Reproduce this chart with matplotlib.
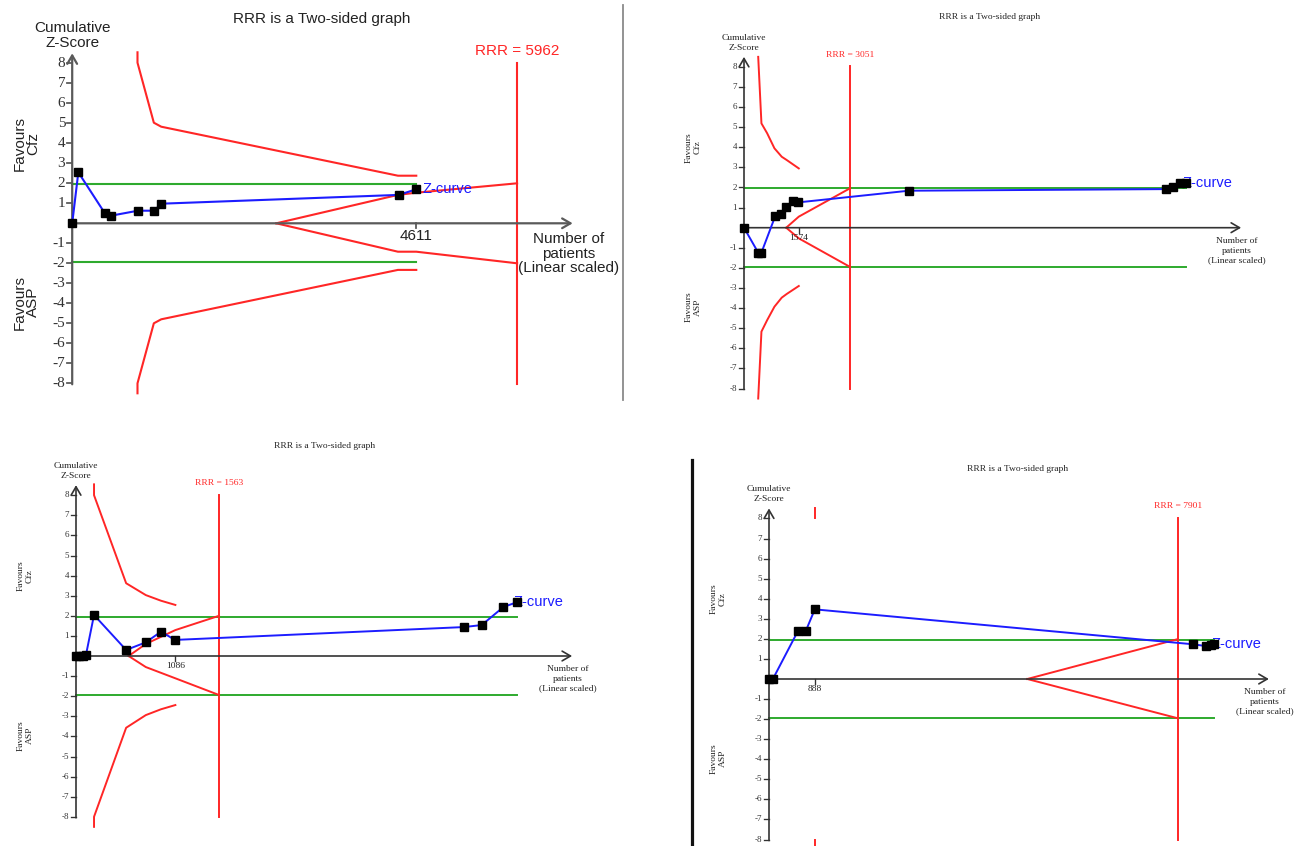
import matplotlib
matplotlib.use('Agg')
import matplotlib.pyplot as plt
from matplotlib.lines import Line2D

W, H = 1300, 846
SANS = ['Liberation Sans', 'DejaVu Sans']
SERIF = ['Liberation Serif', 'DejaVu Serif']
RED = '#ff2626'
GREEN = '#2eaa2e'
BLUE = '#1c1cff'

# ---- panel A (top left) ----
a_n = [0, 82, 438, 520, 881, 1100, 1193, 4376, 4611]
a_z = [0, 2.55, 0.5, 0.38, 0.63, 0.63, 0.98, 1.42, 1.7]
a_bound_n = [875, 875, 1094, 1193, 4365, 4611]
a_bound_up = [8.55, 8.03, 5.03, 4.83, 2.38, 2.38]
a_bound_lo = [-8.5, -8.0, -5.0, -4.8, -2.33, -2.33]
a_fut_n = [2735, 4365, 4611, 5962]
a_fut_up = [0, 1.42, 1.53, 2.0]
a_fut_lo = [0, -1.42, -1.42, -2.0]
a_rrr = 5962
a_tick = 4611
a_xend = 6707

# ---- panel B (top right) ----
b_n = [0, 409, 502, 900, 1075, 1215, 1413, 1565, 4743, 12150, 12348, 12558, 12734]
b_z = [0, -1.24, -1.24, 0.58, 0.66, 1.01, 1.31, 1.26, 1.84, 1.92, 2.0, 2.2, 2.22]
b_bound_n = [409, 502, 666, 876, 1086, 1227, 1577]
b_bound_up = [8.5, 5.19, 4.7, 3.95, 3.53, 3.37, 2.95]
b_bound_lo = [-8.5, -5.17, -4.6, -3.93, -3.48, -3.3, -2.9]
b_fut_n = [1215, 1577, 3051]
b_fut_up = [0, 0.55, 1.96]
b_fut_lo = [0, -0.53, -1.95]
b_rrr = 3051
b_tick = 1574
b_xend = 14310

# ---- panel C (bottom left) ----
c_n = [0, 36, 72, 108, 197, 548, 763, 929, 1082, 4241, 4434, 4672, 4816]
c_z = [0, 0, 0, 0.03, 2.04, 0.3, 0.68, 1.21, 0.8, 1.44, 1.54, 2.44, 2.67]
c_bound_n = [197, 197, 548, 763, 929, 1086]
c_bound_up = [8.54, 8.0, 3.62, 3.03, 2.75, 2.54]
c_bound_lo = [-8.5, -8.0, -3.57, -2.94, -2.65, -2.44]
c_fut_n = [575, 763, 1086, 1563]
c_fut_up = [0, 0.6, 1.29, 2.0]
c_fut_lo = [0, -0.55, -1.11, -1.94]
c_rrr = 1563
c_tick = 1086
c_xend = 5422

# ---- panel D (bottom right) ----
d_n = [0, 75, 563, 713, 885, 8192, 8440, 8530, 8590]
d_z = [0, 0, 2.41, 2.41, 3.47, 1.73, 1.64, 1.68, 1.73]
d_bound_n = [888, 888]
d_bound_up = [8.5, 8.0]
d_bound_lo = [-8.0, -8.3]
d_fut_n = [4989, 7901]
d_fut_up = [0, 1.99]
d_fut_lo = [0, -1.96]
d_rrr = 7901
d_tick = 888
d_xend = 9655

z_ticks = [-8, -7, -6, -5, -4, -3, -2, -1, 1, 2, 3, 4, 5, 6, 7, 8]
z_green = 1.96

fig = plt.figure(figsize=(13, 8.46), dpi=100)


def draw_panel(x0, y0, ppn, ppz, n, z, bn, bup, blo, fn, fup, flo, rrr, tick, xend,
               big, title_xy, msize, lab_dx):
    # one transparent axes over the whole figure, scaled so the panel lands on its spot
    ax = fig.add_axes([0, 0, 1, 1])
    ax.set_xlim(-x0 / ppn, (W - x0) / ppn)
    ax.set_ylim((y0 - H) / ppz, y0 / ppz)
    ax.axis('off')
    ax.patch.set_alpha(0)

    px = 1.0 / ppn   # one pixel in x data units
    pz = 1.0 / ppz   # one pixel in z data units
    if big:
        fam, tfam = SANS, SERIF
        fs, tfs = 11, 11
        acol, alw = '#5a5a5a', 1.6
        lw = 1.5
        head_y, fav_dx, lsp = 9.4, -46, 1.05
    else:
        fam, tfam = SERIF, SERIF
        fs, tfs = 6.8, 6.5
        acol, alw = '#333333', 1.2
        lw = 1.4
        head_y, fav_dx, lsp = 9.2, -51, 1.3

    # axes with arrow heads
    arr = dict(arrowstyle='->,head_length=0.6,head_width=0.35', color=acol, lw=alw,
               shrinkA=0, shrinkB=0)
    ax.annotate('', xy=(0, 8.5), xytext=(0, -8.05), arrowprops=arr)
    ax.annotate('', xy=(xend, 0), xytext=(0, 0), arrowprops=arr)
    for t in z_ticks:
        ax.plot([-5 * px, 0], [t, t], color=acol, lw=alw * 0.8)
        ax.text(-7 * px, t, str(t), ha='right', va='center', fontsize=tfs,
                family=tfam, color='#333333')
    ax.plot([tick, tick], [0, -5 * pz], color=acol, lw=alw * 0.8)
    ax.text(tick, -6 * pz, str(tick), ha='center', va='top', fontsize=fs,
            family=fam, color='#222222')

    # boundaries
    ax.plot([0, n[-1]], [z_green, z_green], color=GREEN, lw=lw)
    ax.plot([0, n[-1]], [-z_green, -z_green], color=GREEN, lw=lw)
    ax.plot(bn, bup, color=RED, lw=lw)
    ax.plot(bn, blo, color=RED, lw=lw)
    ax.plot(fn, fup, color=RED, lw=lw)
    ax.plot(fn, flo, color=RED, lw=lw)
    ax.plot([rrr, rrr], [8.02, -8.02], color=RED, lw=lw)
    ax.text(rrr, 8.6, f'RRR = {rrr}', ha='center', va='center', fontsize=fs,
            family=fam, color=RED)

    # z-curve
    ax.text(n[-1] + lab_dx * px, z[-1], 'Z-curve', ha='left', va='center',
            fontsize=10.5, family=SANS, color=BLUE, zorder=4)
    ax.plot(n, z, color=BLUE, lw=lw, zorder=5)
    ax.plot(n, z, ls='none', marker='s', ms=msize, color='black', zorder=6)

    # labels
    ax.text(0, head_y, 'Cumulative\nZ-Score', ha='center', va='center', fontsize=fs,
            family=fam, linespacing=lsp, color='#222222')
    ax.text(fav_dx * px, 4.0, 'Favours\nCfz', ha='center', va='center', rotation=90,
            fontsize=fs, family=fam, linespacing=lsp - 0.1, color='#222222')
    ax.text(fav_dx * px, -3.95, 'Favours\nASP', ha='center', va='center', rotation=90,
            fontsize=fs, family=fam, linespacing=lsp - 0.1, color='#222222')
    ax.text(xend - 4 * px, -0.45, 'Number of\npatients\n(Linear scaled)', ha='center',
            va='top', fontsize=fs, family=fam, linespacing=lsp,
            color='#222222')
    fig.text(title_xy[0] / W, 1 - title_xy[1] / H, 'RRR is a Two-sided graph',
             ha='center', va='center', fontsize=fs, family=fam, color='#222222')


draw_panel(72.2, 223.3, 0.07462, 20.0, a_n, a_z, a_bound_n, a_bound_up, a_bound_lo,
           a_fut_n, a_fut_up, a_fut_lo, a_rrr, a_tick, a_xend, True, (322, 19), 5.3, 6)
draw_panel(744, 227.7, 0.03474, 20.1, b_n, b_z, b_bound_n, b_bound_up, b_bound_lo,
           b_fut_n, b_fut_up, b_fut_lo, b_rrr, b_tick, b_xend, False, (990, 17), 6.3, -4)
draw_panel(76, 656, 0.0915, 20.1, c_n, c_z, c_bound_n, c_bound_up, c_bound_lo,
           c_fut_n, c_fut_up, c_fut_lo, c_rrr, c_tick, c_xend, False, (325, 446), 5.6, -3)
draw_panel(769, 679, 0.05177, 20.07, d_n, d_z, d_bound_n, d_bound_up, d_bound_lo,
           d_fut_n, d_fut_up, d_fut_lo, d_rrr, d_tick, d_xend, False, (1018, 469), 5.6, -2)

# separators between the four pictures
fig.add_artist(Line2D([622.7 / W] * 2, [1 - 5 / H, 1 - 400 / H], color='#8a8a8a', lw=1.3))
fig.add_artist(Line2D([692 / W] * 2, [1 - 460 / H, 0], color='#111111', lw=2.3))

fig.savefig('out.png', dpi=100, facecolor='white')
